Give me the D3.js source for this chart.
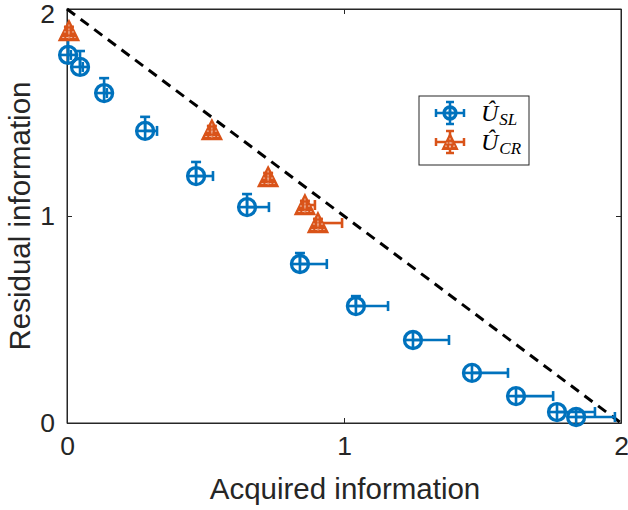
<!DOCTYPE html>
<html>
<head>
<meta charset="utf-8">
<script src="https://cdn.jsdelivr.net/npm/d3@7"></script>
<style>
  body { margin: 0; background: #fff; }
  svg { display: block; }
  .tick text { font-family: "Liberation Sans", Arial, sans-serif; }
</style>
</head>
<body>
<svg id="chart" width="628" height="510"></svg>
<script>
// ---- data ----
var slX    = [0.004, 0.047, 0.134, 0.282, 0.466, 0.650, 0.841, 1.043, 1.249, 1.462, 1.621, 1.769, 1.838];
var slY    = [1.778, 1.720, 1.594, 1.411, 1.193, 1.043, 0.768, 0.565, 0.401, 0.242, 0.130, 0.053, 0.029];
var slYerr = [0.077, 0.077, 0.072, 0.068, 0.068, 0.063, 0.053, 0.048, 0, 0, 0, 0, 0];
var slXerr = [0.01, 0.01, 0.01, 0.043, 0.061, 0.079, 0.097, 0.116, 0.130, 0.130, 0.134, 0.137, 0.140];

var crX    = [0.007, 0.523, 0.726, 0.859, 0.906];
var crY    = [1.894, 1.415, 1.188, 1.053, 0.966];
var crYerr = [0.02, 0.02, 0.02, 0.02, 0.02];
var crXerr = [0.01, 0.01, 0.01, 0.036, 0.087];

var xTicks = [0, 1, 2];
var yTicks = [0, 1, 2];
var boundX = [0, 2];   // dashed bound line  y = 2 - x
var boundY = [2, 0];

var blue = "#0072BD", orange = "#D95319", axisCol = "#262626";

var svg = d3.select("#chart");
var pL = 67, pR = 621, pT = 9, pB = 423;

var x = d3.scaleLinear().domain([0, 2]).range([pL, pR]);
var y = d3.scaleLinear().domain([0, 2]).range([pB, pT]);

// box
svg.append("rect").attr("x", pL).attr("y", pT)
  .attr("width", pR - pL).attr("height", pB - pT)
  .attr("fill", "none").attr("stroke", axisCol).attr("stroke-width", 1);

// axes, ticks inward
var xAxis = svg.append("g").attr("transform", "translate(0," + pB + ")")
  .call(d3.axisBottom(x).tickValues(xTicks).tickFormat(d3.format("d")).tickSizeInner(-5).tickSizeOuter(0).tickPadding(13));
var yAxis = svg.append("g").attr("transform", "translate(" + pL + ",0)")
  .call(d3.axisLeft(y).tickValues(yTicks).tickFormat(d3.format("d")).tickSizeInner(-5).tickSizeOuter(0).tickPadding(12));
svg.append("g").attr("transform", "translate(0," + pT + ")")
  .call(d3.axisTop(x).tickValues(xTicks).tickFormat("").tickSizeInner(-5).tickSizeOuter(0));
svg.append("g").attr("transform", "translate(" + pR + ",0)")
  .call(d3.axisRight(y).tickValues(yTicks).tickFormat("").tickSizeInner(-5).tickSizeOuter(0));
svg.selectAll(".domain").attr("stroke", axisCol);
svg.selectAll(".tick line").attr("stroke", axisCol);
svg.selectAll(".tick text").attr("font-size", 26.5).attr("fill", axisCol);
yAxis.selectAll(".tick text").filter(function (d) { return d === 2; }).attr("dy", "0.38em").attr("y", 3);

// axis labels
svg.append("text").attr("x", (pL + pR) / 2 + 1).attr("y", 499)
  .attr("text-anchor", "middle").attr("font-family", "Liberation Sans, Arial, sans-serif")
  .attr("font-size", 29.5).attr("fill", axisCol).text("Acquired information");
svg.append("text").attr("transform", "translate(30," + (pT + pB) / 2 + ") rotate(-90)")
  .attr("text-anchor", "middle").attr("font-family", "Liberation Sans, Arial, sans-serif")
  .attr("font-size", 29.5).attr("fill", axisCol).text("Residual information");

// dashed bound
svg.append("line")
  .attr("x1", x(boundX[0])).attr("y1", y(boundY[0]))
  .attr("x2", x(boundX[1])).attr("y2", y(boundY[1]))
  .attr("stroke", "#000").attr("stroke-width", 3).attr("stroke-dasharray", "10,7");

// error bars: up and right, with caps
function errorBars(g, xs, ys, xe, ye, col) {
  var cap = 5;
  xs.forEach(function (xv, i) {
    var cx = x(xv), cy = y(ys[i]);
    if (ye[i] > 0) {
      var ty = y(ys[i] + ye[i]);
      g.append("line").attr("x1", cx).attr("x2", cx).attr("y1", cy).attr("y2", ty)
        .attr("stroke", col).attr("stroke-width", 2.6);
      g.append("line").attr("x1", cx - cap).attr("x2", cx + cap).attr("y1", ty).attr("y2", ty)
        .attr("stroke", col).attr("stroke-width", 2.6);
    }
    if (xe[i] > 0) {
      var tx = x(xv + xe[i]);
      g.append("line").attr("x1", cx).attr("x2", tx).attr("y1", cy).attr("y2", cy)
        .attr("stroke", col).attr("stroke-width", 2.6);
      g.append("line").attr("x1", tx).attr("x2", tx).attr("y1", cy - cap).attr("y2", cy + cap)
        .attr("stroke", col).attr("stroke-width", 2.6);
    }
  });
}

function circleMarker(g, cx, cy, r) {
  g.append("circle").attr("cx", cx).attr("cy", cy).attr("r", r)
    .attr("fill", "none").attr("stroke", blue).attr("stroke-width", 3.3);
  g.append("line").attr("x1", cx - r).attr("x2", cx + r).attr("y1", cy).attr("y2", cy)
    .attr("stroke", blue).attr("stroke-width", 2.6);
  g.append("line").attr("x1", cx).attr("x2", cx).attr("y1", cy - r).attr("y2", cy + r)
    .attr("stroke", blue).attr("stroke-width", 2.6);
}

function triMarker(g, cx, cy, s) {
  var h = s * 0.95;
  g.append("path")
    .attr("d", "M" + cx + "," + (cy - h / 2 - 1) + "L" + (cx + s / 2) + "," + (cy + h / 2) + "L" + (cx - s / 2) + "," + (cy + h / 2) + "Z")
    .attr("fill", orange).attr("stroke", orange).attr("stroke-width", 1.5);
  g.append("line").attr("x1", cx).attr("x2", cx).attr("y1", cy - h / 2 + 3).attr("y2", cy + h / 2 - 1)
    .attr("stroke", "#fff").attr("stroke-width", 0.8).attr("stroke-dasharray", "2,2").attr("opacity", 0.8);
  g.append("line").attr("x1", cx - s / 4).attr("x2", cx + s / 4).attr("y1", cy + 1).attr("y2", cy + 1)
    .attr("stroke", "#fff").attr("stroke-width", 0.8).attr("stroke-dasharray", "2,2").attr("opacity", 0.8);
  g.append("line").attr("x1", cx - s / 3).attr("x2", cx + s / 3).attr("y1", cy + h / 2 - 3).attr("y2", cy + h / 2 - 3)
    .attr("stroke", "#fff").attr("stroke-width", 0.8).attr("stroke-dasharray", "2,2").attr("opacity", 0.8);
}

var gSL = svg.append("g");
errorBars(gSL, slX, slY, slXerr, slYerr, blue);
slX.forEach(function (xv, i) { circleMarker(gSL, x(xv), y(slY[i]), 8.5); });

var gCR = svg.append("g");
errorBars(gCR, crX, crY, crXerr, crYerr, orange);
crX.forEach(function (xv, i) { triMarker(gCR, x(xv), y(crY[i]), 20); });

// legend
var lg = svg.append("g");
lg.append("rect").attr("x", 419).attr("y", 96).attr("width", 110).attr("height", 69)
  .attr("fill", "#fff").attr("stroke", axisCol).attr("stroke-width", 1);
var entries = [
  { col: blue, y: 113, sub: "SL", kind: "c" },
  { col: orange, y: 142, sub: "CR", kind: "t" }
];
entries.forEach(function (e) {
  var cx = 450;
  lg.append("line").attr("x1", cx - 14).attr("x2", cx + 14).attr("y1", e.y).attr("y2", e.y)
    .attr("stroke", e.col).attr("stroke-width", 2.5);
  lg.append("line").attr("x1", cx).attr("x2", cx).attr("y1", e.y - 11).attr("y2", e.y + 11)
    .attr("stroke", e.col).attr("stroke-width", 2.5);
  [[cx - 14, e.y, 0], [cx + 14, e.y, 0], [cx, e.y - 11, 1], [cx, e.y + 11, 1]].forEach(function (c) {
    if (c[2] === 0) lg.append("line").attr("x1", c[0]).attr("x2", c[0]).attr("y1", c[1] - 4).attr("y2", c[1] + 4)
      .attr("stroke", e.col).attr("stroke-width", 2.5);
    else lg.append("line").attr("x1", c[0] - 4).attr("x2", c[0] + 4).attr("y1", c[1]).attr("y2", c[1])
      .attr("stroke", e.col).attr("stroke-width", 2.5);
  });
  if (e.kind === "c") circleMarker(lg, cx, e.y, 6);
  else triMarker(lg, cx, e.y, 15);
  var t = lg.append("text").attr("x", 481).attr("y", e.y + 8)
    .attr("font-family", "Liberation Serif, Times New Roman, serif").attr("font-style", "italic")
    .attr("font-size", 24).attr("fill", "#000");
  t.append("tspan").text("\u00DB");
  t.append("tspan").attr("font-size", 17).attr("dx", 1).attr("dy", 4).text(e.sub);
});
</script>
</body>
</html>
